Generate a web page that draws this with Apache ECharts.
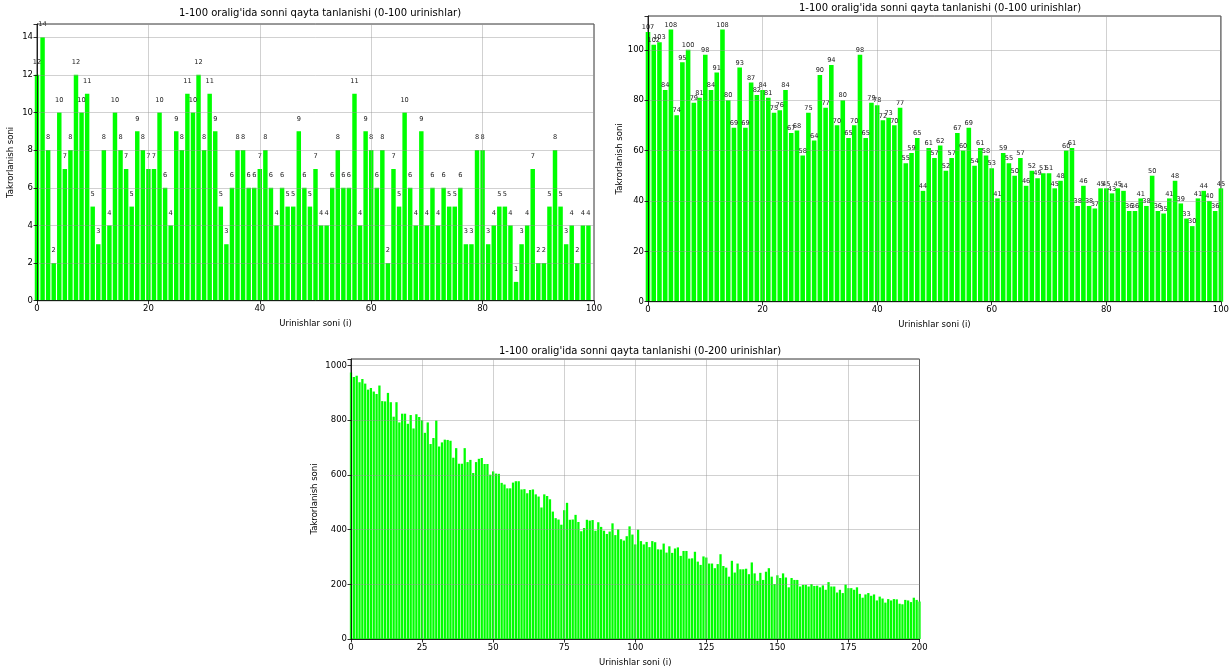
<!DOCTYPE html>
<html>
<head>
<meta charset="utf-8">
<title>1-100 oralig'ida sonni qayta tanlanishi</title>
<script src="https://cdn.jsdelivr.net/npm/echarts@6/dist/echarts.min.js"></script>
<style>
  html, body { margin: 0; padding: 0; background: #ffffff; }
  #chart { width: 1232px; height: 668px; }
</style>
</head>
<body>
<div id="chart"></div>
<script>
// Repeat counts per attempt index, three experiments
const runA = [
  12, 14, 8, 2, 10, 7, 8, 12, 10, 11,
  5, 3, 8, 4, 10, 8, 7, 5, 9, 8,
  7, 7, 10, 6, 4, 9, 8, 11, 10, 12,
  8, 11, 9, 5, 3, 6, 8, 8, 6, 6,
  7, 8, 6, 4, 6, 5, 5, 9, 6, 5,
  7, 4, 4, 6, 8, 6, 6, 11, 4, 9,
  8, 6, 8, 2, 7, 5, 10, 6, 4, 9,
  4, 6, 4, 6, 5, 5, 6, 3, 3, 8,
  8, 3, 4, 5, 5, 4, 1, 3, 4, 7,
  2, 2, 5, 8, 5, 3, 4, 2, 4, 4
];

const runB = [
  107, 102, 103, 84, 108, 74, 95, 100, 79, 81,
  98, 84, 91, 108, 80, 69, 93, 69, 87, 82,
  84, 81, 75, 76, 84, 67, 68, 58, 75, 64,
  90, 77, 94, 70, 80, 65, 70, 98, 65, 79,
  78, 72, 73, 70, 77, 55, 59, 65, 44, 61,
  57, 62, 52, 57, 67, 60, 69, 54, 61, 58,
  53, 41, 59, 55, 50, 57, 46, 52, 49, 51,
  51, 45, 48, 60, 61, 38, 46, 38, 37, 45,
  45, 43, 45, 44, 36, 36, 41, 38, 50, 36,
  35, 41, 48, 39, 33, 30, 41, 44, 40, 36,
  45
];

const runC = [
  975, 958, 963, 939, 951, 934, 912, 918, 905, 896,
  927, 870, 869, 900, 866, 813, 866, 792, 824, 824,
  787, 819, 770, 822, 812, 800, 754, 792, 713, 735,
  799, 704, 719, 729, 728, 725, 663, 698, 641, 641,
  698, 647, 655, 607, 647, 659, 662, 640, 640, 601,
  613, 605, 604, 571, 565, 551, 551, 572, 577, 577,
  547, 548, 533, 545, 547, 529, 521, 481, 529, 523,
  511, 466, 442, 437, 418, 471, 498, 436, 437, 454,
  428, 394, 406, 436, 433, 435, 396, 427, 410, 396,
  384, 393, 423, 380, 401, 365, 360, 376, 412, 382,
  346, 400, 358, 346, 355, 336, 358, 354, 328, 327,
  349, 316, 339, 315, 331, 335, 304, 322, 322, 294,
  295, 319, 283, 271, 302, 298, 276, 276, 259, 274,
  310, 267, 261, 228, 286, 243, 276, 255, 255, 257,
  237, 280, 240, 213, 242, 216, 246, 259, 228, 201,
  233, 223, 240, 225, 189, 223, 216, 216, 192, 198,
  198, 192, 201, 194, 195, 189, 196, 180, 208, 192,
  192, 170, 180, 168, 199, 186, 186, 180, 189, 165,
  151, 163, 168, 158, 163, 141, 155, 148, 133, 146,
  141, 146, 145, 129, 127, 143, 141, 135, 151, 143,
  137
];

const titles = [
  "1-100 oralig'ida sonni qayta tanlanishi (0-100 urinishlar)",
  "1-100 oralig'ida sonni qayta tanlanishi (0-100 urinishlar)",
  "1-100 oralig'ida sonni qayta tanlanishi (0-200 urinishlar)"
];
const xName = 'Urinishlar soni (i)';
const yName = 'Takrorlanish soni';

const FONT = 'DejaVu Sans';
const BAR = '#00ff00';
const GRIDLINE = 'rgba(150,150,150,0.55)';

function toPoints(arr) {
  return arr.map((v, i) => [i, v]);
}

function xAxisCfg(idx, max, interval) {
  return {
    type: 'value', gridIndex: idx, min: 0, max: max, interval: interval, z: 3,
    name: xName, nameLocation: 'middle', nameGap: 19,
    nameTextStyle: { fontFamily: FONT, fontSize: 8.5, color: '#000' },
    axisLine: { show: true, onZero: false, lineStyle: { color: '#000', width: 0.8 } },
    axisTick: { show: true, length: 3.5, lineStyle: { color: '#000', width: 0.8 } },
    axisLabel: { fontFamily: FONT, fontSize: 8.5, color: '#000', margin: 4 },
    splitLine: { show: true, lineStyle: { color: GRIDLINE, width: 0.8 } }
  };
}

function yAxisCfg(idx, max, interval, gap) {
  return {
    type: 'value', gridIndex: idx, min: 0, max: max, interval: interval, z: 3,
    name: yName, nameLocation: 'middle', nameGap: gap, nameRotate: 90,
    nameTextStyle: { fontFamily: FONT, fontSize: 8.5, color: '#000' },
    axisLine: { show: true, lineStyle: { color: '#000', width: 0.8 } },
    axisTick: { show: true, length: 3.5, lineStyle: { color: '#000', width: 0.8 } },
    axisLabel: {
      fontFamily: FONT, fontSize: 8.5, color: '#000', margin: 4,
      formatter: v => (Math.abs(v / interval - Math.round(v / interval)) < 1e-6 ? String(v) : '')
    },
    splitLine: { show: true, lineStyle: { color: GRIDLINE, width: 0.8 } }
  };
}

function barSeries(idx, data, withLabels, labelGap) {
  return {
    type: 'bar', xAxisIndex: idx, yAxisIndex: idx, z: 2,
    data: toPoints(data),
    barWidth: '80%',
    clip: true,
    itemStyle: { color: BAR },
    emphasis: { disabled: true },
    label: withLabels ? {
      show: true, position: 'top', distance: labelGap,
      fontFamily: FONT, fontSize: 6.6, color: '#222',
      formatter: p => String(p.value[1])
    } : { show: false }
  };
}

const frame = { show: true, borderColor: '#000', borderWidth: 0.8, backgroundColor: 'transparent' };

const option = {
  animation: false,
  backgroundColor: '#ffffff',
  title: [
    { text: titles[0], left: 315, top: 3, textAlign: 'center',
      textStyle: { fontFamily: FONT, fontSize: 10, fontWeight: 'normal', color: '#000' } },
    { text: titles[1], left: 935, top: -2, textAlign: 'center',
      textStyle: { fontFamily: FONT, fontSize: 10, fontWeight: 'normal', color: '#000' } },
    { text: titles[2], left: 635, top: 341, textAlign: 'center',
      textStyle: { fontFamily: FONT, fontSize: 10, fontWeight: 'normal', color: '#000' } }
  ],
  grid: [
    Object.assign({ left: 37, top: 24, width: 557, height: 276.7 }, frame),
    Object.assign({ left: 648, top: 16, width: 574, height: 285.7 }, frame),
    Object.assign({ left: 351, top: 359, width: 568.5, height: 283.3 }, frame)
  ],
  xAxis: [
    xAxisCfg(0, 100, 20),
    xAxisCfg(1, 100, 20),
    xAxisCfg(2, 200, 25)
  ],
  yAxis: [
    yAxisCfg(0, 14.7, 2, 22),
    yAxisCfg(1, 113.4, 20, 20),
    yAxisCfg(2, 1024, 200, 32)
  ],
  series: [
    barSeries(0, runA, true, 9),
    barSeries(1, runB, true, 1),
    barSeries(2, runC, false, 0)
  ]
};

const chart = echarts.init(document.getElementById('chart'), null, { renderer: 'canvas' });
chart.setOption(option);
</script>
</body>
</html>
